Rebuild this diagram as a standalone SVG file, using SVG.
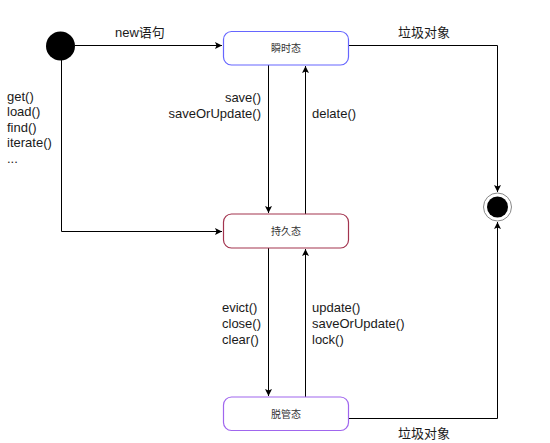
<svg xmlns="http://www.w3.org/2000/svg" width="550" height="443" viewBox="0 0 550 443">
<style>
.lbl{font-family:"Liberation Sans",Arial,"Noto Sans CJK SC",sans-serif;font-size:13px;fill:#1a1a1a}
.nt{font-family:"Liberation Sans",Arial,"Noto Sans CJK SC",sans-serif;font-size:10px;fill:#333;text-anchor:middle}
.edge{fill:none;stroke:#000;stroke-width:1}
.node{fill:#fff;stroke-width:1.2}
</style>
<defs>
<marker id="arr" markerUnits="userSpaceOnUse" markerWidth="8" markerHeight="8" refX="7" refY="4" orient="auto">
<path d="M0,0.5 L7,4 L0,7.5 L1.5,4 z" fill="#000"/>
</marker>
</defs>
<rect width="550" height="443" fill="#fff"/>
<g id="connectors">
<path class="edge" d="M75,45.5 H222" marker-end="url(#arr)"/>
<path class="edge" d="M349,45.5 H497.5 V192" marker-end="url(#arr)"/>
<path class="edge" d="M61.5,60 V231.5 H222" marker-end="url(#arr)"/>
<path class="edge" d="M268.5,65 V213" marker-end="url(#arr)"/>
<path class="edge" d="M305.5,214 V66" marker-end="url(#arr)"/>
<path class="edge" d="M268.5,248 V396" marker-end="url(#arr)"/>
<path class="edge" d="M305.5,397 V249" marker-end="url(#arr)"/>
<path class="edge" d="M349,418.5 H497.5 V222" marker-end="url(#arr)"/>
</g>
<g id="labels">
<text class="lbl" x="115" y="36.5">new语句</text>
<text class="lbl" x="398" y="36.5">垃圾对象</text>
<text class="lbl" x="398" y="437.5">垃圾对象</text>
<text class="lbl" x="261" y="101.5" text-anchor="end">save()</text>
<text class="lbl" x="261" y="117.5" text-anchor="end">saveOrUpdate()</text>
<text class="lbl" x="312" y="117.5">delate()</text>
<text class="lbl" x="7" y="100.5">get()</text>
<text class="lbl" x="7" y="116">load()</text>
<text class="lbl" x="7" y="131.5">find()</text>
<text class="lbl" x="7" y="147">iterate()</text>
<text class="lbl" x="7" y="162.5">...</text>
<text class="lbl" x="222" y="311.5">evict()</text>
<text class="lbl" x="222" y="327.5">close()</text>
<text class="lbl" x="222" y="343.5">clear()</text>
<text class="lbl" x="312" y="311.5">update()</text>
<text class="lbl" x="312" y="327.5">saveOrUpdate()</text>
<text class="lbl" x="312" y="343.5">lock()</text>
</g>
<g id="start">
<circle cx="60.5" cy="46" r="14.5" fill="#000"/>
</g>
<g id="end">
<circle cx="497.5" cy="207" r="14" fill="#fff" stroke="#888" stroke-width="1"/>
<circle cx="497.5" cy="207" r="10.5" fill="#000"/>
</g>
<g id="node-transient">
<rect class="node" x="223.5" y="31.5" width="125" height="33.5" rx="8" stroke="#6666ff"/>
<text class="nt" x="286" y="52">瞬时态</text>
</g>
<g id="node-persistent">
<rect class="node" x="223.5" y="214" width="125" height="34" rx="8" stroke="#a3344f"/>
<text class="nt" x="286" y="234.5">持久态</text>
</g>
<g id="node-detached">
<rect class="node" x="223.5" y="397" width="125" height="33.5" rx="8" stroke="#a066ee"/>
<text class="nt" x="286" y="417.5">脱管态</text>
</g>
</svg>
